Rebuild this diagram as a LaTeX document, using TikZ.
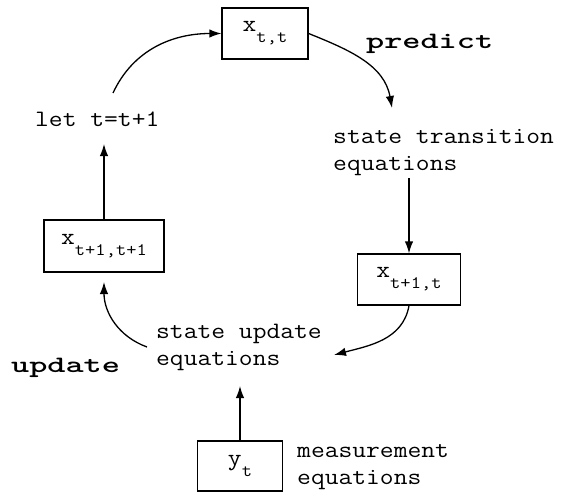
\documentclass[tikz,border=0pt]{standalone}
\usepackage{fontspec}
\usetikzlibrary{arrows.meta}
\newcommand\cw[1]{\scalebox{1.14}[1]{#1}}
\newcommand\bw[1]{\scalebox{1.47}[1]{\bfseries #1}}
\newcommand\subsc[1]{\raisebox{-11pt}{\fontsize{17.5}{17.5}\selectfont\cw{#1}}}
\tikzset{
  box/.style={draw, line width=1.3pt, inner sep=0pt, minimum height=51pt},
  lbl/.style={inner sep=0pt, align=left},
  arr/.style={line width=1.3pt, -{Latex[length=12pt,width=8.5pt]}},
}
\begin{document}
\begin{tikzpicture}[x=1pt,y=1pt,font=\ttfamily\fontsize{23.5}{27}\selectfont]
\useasboundingbox (0,0) rectangle (562,-492);
% boxes
\node[box, minimum width=86pt] (xtt) at (265,-33.5) {\cw{x}\subsc{t,t}};
\node[box, minimum width=120pt, minimum height=52pt] (xt1t1) at (104,-246) {\cw{x}\subsc{t+1,t+1}};
\node[box, minimum width=103pt] (xt1t) at (409,-279.5) {\cw{x}\subsc{t+1,t}};
\node[box, minimum width=85pt, minimum height=50pt] (yt) at (240,-466) {\cw{y}\subsc{t}};
% labels
\node[lbl, anchor=base west] (let) at (35,-127) {\cw{let t=t+1}};
\node[lbl, anchor=base west] (stt) at (333,-170) {\cw{state transition}\\\cw{equations}};
\node[lbl, anchor=base west] (sue) at (156,-365) {\cw{state update}\\\cw{equations}};
\node[lbl, anchor=base west] (meas) at (297,-484) {\cw{measurement}\\\cw{equations}};
\node[lbl, anchor=base west] (pred) at (366,-49) {\bw{predict}};
\node[lbl, anchor=base west] (upd) at (11,-372) {\bw{update}};
% connector ends
\coordinate (c1) at (113,-93);
\coordinate (c2) at (392,-108);
\coordinate (c3) at (409,-178);
\coordinate (c4) at (334,-355);
\coordinate (c5) at (147,-347);
\coordinate (c6) at (104,-282);
\coordinate (c7) at (240,-386);
\coordinate (c8) at (104,-144);
% connectors
\draw[arr] (c1) to[out=65,in=180] (xtt.west);
\draw[arr] (xtt.east) to[out=-22,in=100] (c2);
\draw[arr] (c3) -- (xt1t.north);
\draw[arr] (xt1t.south) to[out=-100,in=15] (c4);
\draw[arr] (c5) to[out=160,in=-90] (c6);
\draw[arr] (yt.north) -- (c7);
\draw[arr] (xt1t1.north) -- (c8);
\end{tikzpicture}
\end{document}
